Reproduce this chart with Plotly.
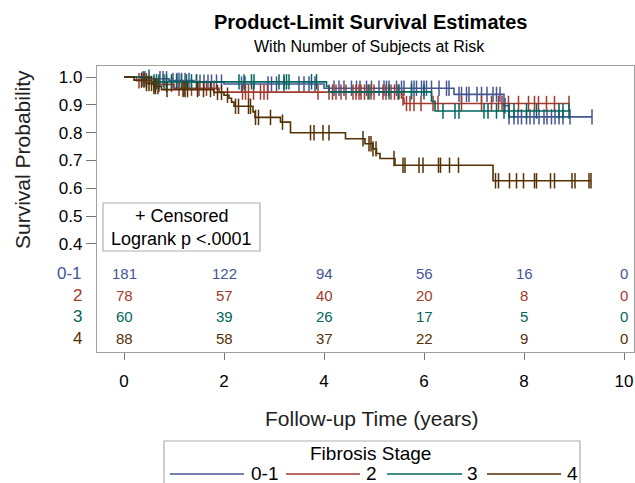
import numpy as np
import plotly.graph_objects as go

# ---------------- data ----------------
groups = ["0-1", "2", "3", "4"]
colors = ["#445694", "#A23A2E", "#01665E", "#543005"]

# Kaplan-Meier step (event) times and survival after each step
step_t_01 = [0.35, 0.9, 1.4, 2.0, 4.0, 6.6, 7.6, 7.7]
step_s_01 = [0.994, 0.988, 0.982, 0.975, 0.96, 0.938, 0.897, 0.857]
step_t_2 = [0.25, 0.55, 1.0, 1.9, 5.55, 5.6]
step_s_2 = [0.987, 0.974, 0.96, 0.946, 0.925, 0.905]
step_t_3 = [0.55, 4.05, 4.1, 6.15, 6.22]
step_s_3 = [0.983, 0.966, 0.947, 0.913, 0.878]
step_t_4 = [0.2, 0.45, 0.6, 0.75, 1.8, 2.0, 2.1, 2.15, 2.2, 2.58, 2.62, 3.13, 3.33,
            4.43, 4.82, 4.98, 5.05, 5.12, 5.42, 7.38]
step_s_4 = [0.989, 0.977, 0.966, 0.955, 0.945, 0.935, 0.924, 0.91, 0.895, 0.875, 0.855,
            0.838, 0.8, 0.778, 0.76, 0.742, 0.725, 0.707, 0.683, 0.627]

# censoring times
cens_01 = [0.38, 0.42, 0.72, 0.78, 0.85, 0.98, 1.06, 1.1, 1.15, 1.22, 1.3, 1.45, 1.52, 1.6,
           1.68, 1.75, 1.85, 1.95, 2.35, 2.42, 2.88, 2.95, 3.05, 3.2, 3.5, 3.6, 3.7, 3.82,
           4.2, 4.3, 4.4, 4.55, 4.65, 4.72, 4.85, 4.95, 5.1, 5.2, 5.25, 5.3, 5.45, 5.55, 5.6,
           5.75, 5.8, 5.85, 5.95, 6.0, 6.05, 6.15, 6.3, 6.45, 6.5, 6.7, 6.75, 6.85, 6.9,
           7.06, 7.15, 7.26, 7.38, 7.45, 7.52, 7.62, 7.7, 7.8, 7.88, 7.95, 8.05, 8.12, 8.2,
           8.3, 8.4, 8.46, 8.55, 8.62, 8.7, 8.78, 8.92, 9.36]
cens_2 = [0.3, 0.45, 0.6, 0.7, 0.85, 0.95, 1.1, 1.2, 1.35, 1.5, 1.65, 1.8, 2.37, 2.43, 2.49,
          2.59, 2.73, 2.8, 2.87, 3.88, 4.1, 4.17, 4.24, 4.34, 4.44, 4.58, 4.64, 4.7, 4.74,
          4.81, 4.88, 4.94, 5.0, 5.18, 5.24, 5.34, 5.41, 5.48, 5.58, 5.65, 5.72, 5.8, 5.94,
          6.18, 6.28, 6.75, 7.15, 7.35, 7.49, 7.56, 7.69, 7.89, 8.09, 8.21, 8.29, 8.45,
          8.61, 8.9]
cens_3 = [0.5, 0.6, 0.65, 0.7, 0.8, 0.85, 0.95, 1.05, 1.15, 1.25, 1.35, 1.45, 2.3, 2.4,
          2.55, 2.6, 3.1, 3.2, 3.25, 3.3, 3.75, 3.85, 4.9, 5.3, 5.5, 5.75, 6.0, 6.38, 6.62,
          6.7, 7.2, 7.28, 7.45, 7.6, 7.7, 7.8, 8.05, 8.25, 8.7, 8.78, 8.9]
cens_4 = [0.35, 0.4, 0.45, 0.5, 0.55, 0.6, 0.63, 0.68, 0.86, 1.18, 1.22, 1.27, 1.47, 1.59,
          1.73, 1.87, 1.95, 2.07, 2.23, 2.29, 2.49, 2.53, 2.63, 2.69, 2.93, 3.17, 3.73,
          3.80, 3.98, 4.10, 4.78, 4.90, 4.94, 4.98, 5.04, 5.40, 5.58, 5.62, 5.90, 5.98,
          6.29, 6.33, 6.51, 6.69, 7.43, 7.49, 7.71, 7.85, 7.99, 8.21, 8.25, 8.53, 8.61,
          8.96, 9.02, 9.30, 9.34]

# number at risk
risk_times = [0, 2, 4, 6, 8, 10]
risk_01 = [181, 122, 94, 56, 16, 0]
risk_2 = [78, 57, 40, 20, 8, 0]
risk_3 = [60, 39, 26, 17, 5, 0]
risk_4 = [88, 58, 37, 22, 9, 0]

x_ticks = [0, 2, 4, 6, 8, 10]
y_ticks = [0.4, 0.5, 0.6, 0.7, 0.8, 0.9, 1.0]

steps_t = [step_t_01, step_t_2, step_t_3, step_t_4]
steps_s = [step_s_01, step_s_2, step_s_3, step_s_4]
cens = [cens_01, cens_2, cens_3, cens_4]
risks = [risk_01, risk_2, risk_3, risk_4]

# ---------------- layout geometry (pixels) ----------------
W, H = 635, 483
L, R, T, B = 97, 634, 66, 352          # frame edges
Y_TOP, Y_BOT = 1.04, 0.011
risk_rows_y = [0.295, 0.216, 0.137, 0.058]
FONT = "Liberation Sans, Arial, sans-serif"


def xp(px):
    return (px - L) / (R - L)


def yp(py):
    return (B - py) / (B - T)


def surv_at(t, st, ss):
    st = np.asarray(st)
    ss = np.asarray(ss)
    i = np.searchsorted(st, t, side="right")
    return np.where(i == 0, 1.0, ss[np.maximum(i - 1, 0)])


fig = go.Figure()

for g, col, st, ss, ce in zip(groups, colors, steps_t, steps_s, cens):
    t_end = max(max(ce), max(st))
    xs = [0.0] + list(st) + [t_end]
    ys = [1.0] + list(ss) + [ss[-1]]
    fig.add_trace(go.Scatter(x=xs, y=ys, mode="lines", line=dict(color=col, width=1.6, shape="hv"),
                             showlegend=False, hoverinfo="skip"))
    cy = surv_at(np.asarray(ce), st, ss)
    fig.add_trace(go.Scatter(x=ce, y=cy, mode="markers",
                             marker=dict(symbol="line-ns-open", size=11, color=col,
                                         line=dict(color=col, width=1.5)),
                             showlegend=False, hoverinfo="skip"))


def ann(x, y, text, size, color="black", xref="paper", yref="paper", xanchor="center", **kw):
    return dict(x=x, y=y, xref=xref, yref=yref, text=text, showarrow=False,
                xanchor=xanchor, yanchor="middle", font=dict(size=size, color=color, family=FONT), **kw)


annotations = []
# risk table
for g, col, rk, ry in zip(groups, colors, risks, risk_rows_y):
    for t, n in zip(risk_times, rk):
        annotations.append(ann(t, ry, str(n), 15, col, xref="x", yref="y"))
    annotations.append(ann(xp(84), ry, g, 17, col, yref="y", xanchor="right"))

# titles and texts
annotations += [
    ann(xp(370), yp(22), "<b>Product-Limit Survival Estimates</b>", 20),
    ann(xp(369), yp(47), "With Number of Subjects at Risk", 16),
    ann(xp(22), yp(160), "Survival Probability", 21, "#222", textangle=-90),
    ann(xp(372), yp(419), "Follow-up Time (years)", 21, "#222"),
    ann(xp(182), yp(216), "+ Censored", 18),
    ann(xp(181), yp(239), "Logrank p &lt;.0001", 18),
    ann(xp(370), yp(453), "Fibrosis Stage", 19),
]

shapes = [
    dict(type="rect", xref="paper", yref="paper", x0=xp(103), x1=xp(260), y0=yp(251), y1=yp(203),
         line=dict(color="#B0B0B0", width=1.2), fillcolor="white", layer="below"),
    dict(type="rect", xref="paper", yref="paper", x0=xp(164), x1=xp(580), y0=yp(495), y1=yp(441),
         line=dict(color="#B0B0B0", width=1.2), fillcolor="rgba(0,0,0,0)"),
]

# manual legend entries
leg_lines = [(170, 244, 264), (286, 360, 371), (387, 462, 472), (487, 561, 572)]
for (x0, x1, xl), g, col in zip(leg_lines, groups, colors):
    shapes.append(dict(type="line", xref="paper", yref="paper", x0=xp(x0), x1=xp(x1),
                       y0=yp(474), y1=yp(474), line=dict(color=col, width=1.6)))
    annotations.append(ann(xp(xl), yp(473), g, 19))

fig.update_layout(
    width=W, height=H,
    margin=dict(l=L, r=W - R, t=T, b=H - B),
    paper_bgcolor="white", plot_bgcolor="white",
    font=dict(family=FONT),
    annotations=annotations, shapes=shapes,
    showlegend=False,
)
fig.update_xaxes(range=[(L - 124) / 50.0, (R - 124) / 50.0], tickvals=x_ticks, ticks="outside",
                 ticklen=7, tickcolor="#777", showline=True, linecolor="#A0A0A0", linewidth=1.2,
                 mirror=True, showgrid=False, zeroline=False, ticklabelstandoff=6,
                 tickfont=dict(size=17, color="black", family=FONT))
fig.update_yaxes(range=[Y_BOT, Y_TOP], tickvals=y_ticks, ticktext=[f"{v:.1f}" for v in y_ticks],
                 ticks="outside", ticklen=10, tickcolor="#777", showline=True, linecolor="#A0A0A0",
                 linewidth=1.2, mirror=True, showgrid=False, zeroline=False,
                 tickfont=dict(size=17, color="black", family=FONT))

fig.write_html("out.html", config={"displayModeBar": False},
               post_script="document.body.style.margin='0';document.body.style.overflow='hidden';")
